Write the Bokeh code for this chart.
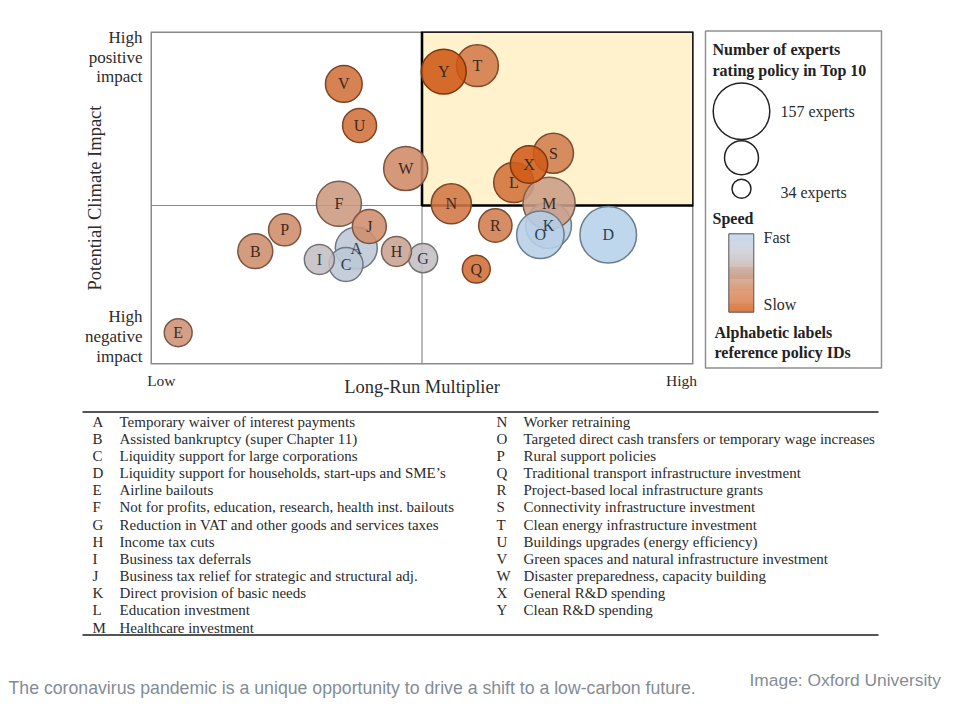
import numpy as np
from bokeh.plotting import figure
from bokeh.models import Range1d, ColumnDataSource, LinearColorMapper, FixedTicker
from bokeh.transform import transform
from bokeh.layouts import column, row
from bokeh.core.properties import value
from bokeh.embed import file_html
from bokeh.resources import INLINE

# ---------------- data ----------------
ids = list("ABCDEFGHIJKLMNOPQRSTUVWXY")
multiplier = [3.79, 1.93, 3.60, 8.43, 0.51, 3.47, 5.02, 4.53, 3.11, 4.03, 7.33, 6.69, 7.34,
              5.54, 7.18, 2.47, 6.00, 6.35, 7.42, 6.02, 3.85, 3.56, 4.70, 6.97, 5.40]
climate = [-1.28, -1.37, -1.77, -0.88, -3.82, 0.05, -1.58, -1.38, -1.62, -0.63, -0.60, 0.69, 0.07,
           0.05, -0.88, -0.73, -1.91, -0.60, 1.57, 4.20, 2.40, 3.65, 1.11, 1.23, 4.02]
experts = [109, 86, 83, 157, 63, 119, 67, 70, 70, 83, 122, 103, 142,
           103, 127, 77, 63, 81, 103, 109, 83, 92, 116, 94, 119]
speed = [0.15, 0.63, 0.15, 0.0, 0.6, 0.57, 0.3, 0.5, 0.3, 0.63, 0.05, 0.8, 0.55,
         0.76, 0.03, 0.64, 0.82, 0.72, 0.72, 0.74, 0.8, 0.8, 0.65, 0.95, 0.97]
policies = [
    "Temporary waiver of interest payments",
    "Assisted bankruptcy (super Chapter 11)",
    "Liquidity support for large corporations",
    "Liquidity support for households, start-ups and SME\u2019s",
    "Airline bailouts",
    "Not for profits, education, research, health inst. bailouts",
    "Reduction in VAT and other goods and services taxes",
    "Income tax cuts",
    "Business tax deferrals",
    "Business tax relief for strategic and structural adj.",
    "Direct provision of basic needs",
    "Education investment",
    "Healthcare investment",
    "Worker retraining",
    "Targeted direct cash transfers or temporary wage increases",
    "Rural support policies",
    "Traditional transport infrastructure investment",
    "Project-based local infrastructure grants",
    "Connectivity infrastructure investment",
    "Clean energy infrastructure investment",
    "Buildings upgrades (energy efficiency)",
    "Green spaces and natural infrastructure investment",
    "Disaster preparedness, capacity building",
    "General R&D spending",
    "Clean R&D spending",
]
legend_experts = [157, 83, 34]
legend_labels = ["157 experts", "", "34 experts"]
x_tick_labels = ["Low", "High"]
y_tick_labels = ["High", "positive", "impact", "High", "negative", "impact"]

SERIF = "Liberation Serif"
X_MIN, X_MAX = 0.0, 10.0
Y_MIN, Y_MAX = -4.775, 5.225

# ---------------- page geometry (px) ----------------
CH_L, CH_R, CH_T, CH_B = 150, 693, 31, 364      # chart frame
TOP_H = 408                                     # height of the chart band
LEG_R = 890

# ---------------- scales ----------------
def diam(n):
    return 2 * (9.5 + (np.asarray(n, dtype=float) - 34) * 18.8 / 123)

stops = [(0.0, (182, 209, 235)), (0.3, (196, 190, 194)), (0.55, (203, 156, 134)),
         (0.75, (210, 120, 70)), (1.0, (207, 84, 14))]

def col_at(t, k=1.0):
    for (t0, c0), (t1, c1) in zip(stops[:-1], stops[1:]):
        if t <= t1:
            f = (t - t0) / (t1 - t0) if t1 > t0 else 0
            c = [c0[i] + f * (c1[i] - c0[i]) for i in range(3)]
            break
    return "#%02x%02x%02x" % tuple(int(round(v * k)) for v in c)

palette = [col_at(t) for t in np.linspace(0, 1, 256)]
dark_palette = [col_at(t, 0.6) for t in np.linspace(0, 1, 256)]
fill_mapper = LinearColorMapper(palette=palette, low=0, high=1)
line_mapper = LinearColorMapper(palette=dark_palette, low=0, high=1)

src = ColumnDataSource(dict(
    x=multiplier, y=climate, id=ids, speed=speed, size=diam(experts),
    tcolor=["#2c3e52" if s < 0.35 else "#3b2a22" for s in speed],
))

# ---------------- main chart ----------------
p = figure(width=CH_R + 7, height=TOP_H, x_range=Range1d(X_MIN, X_MAX), y_range=Range1d(Y_MIN, Y_MAX),
           output_backend="svg", toolbar_location=None,
           min_border_left=CH_L, min_border_right=7, min_border_top=CH_T,
           min_border_bottom=TOP_H - CH_B)
p.grid.visible = False
p.outline_line_color = None
p.background_fill_color = "white"

XC = (X_MIN + X_MAX) / 2
p.segment(x0=[X_MIN, XC], x1=[X_MAX, XC], y0=[0, Y_MIN], y1=[0, Y_MAX],
          line_color="#8a8a8a", line_width=1.2)
p.quad(left=[XC], right=[X_MAX], bottom=[0], top=[Y_MAX],
       fill_color="#FFF2CC", line_color=None)
p.quad(left=[X_MIN], right=[X_MAX], bottom=[Y_MIN], top=[Y_MAX], fill_color=None,
       line_color="#8a8a8a", line_width=3)
p.quad(left=[XC], right=[X_MAX], bottom=[0], top=[Y_MAX], fill_color=None,
       line_color="black", line_width=2.6)

p.scatter(x="x", y="y", size="size", source=src,
          fill_color=transform("speed", fill_mapper), fill_alpha=0.88,
          line_color=transform("speed", line_mapper), line_width=1.5)
p.text(x="x", y="y", text="id", source=src, text_align="center", text_baseline="middle",
       text_font=value(SERIF), text_font_size="16px", text_color="tcolor")

xt = [0.2, 9.78]
yt = [5.03, 4.44, 3.87, -3.33, -3.93, -4.53]
p.xaxis.ticker = FixedTicker(ticks=xt)
p.xaxis.major_label_overrides = {t: l for t, l in zip(xt, x_tick_labels)}
p.yaxis.ticker = FixedTicker(ticks=yt)
p.yaxis.major_label_overrides = {t: l for t, l in zip(yt, y_tick_labels)}
p.xaxis.axis_label = "Long-Run Multiplier"
p.yaxis.axis_label = "Potential Climate Impact"
p.axis.axis_line_color = None
p.axis.major_tick_line_color = None
p.axis.minor_tick_line_color = None
p.axis.major_tick_out = 0
p.axis.major_tick_in = 0
p.axis.minor_tick_out = 0
p.axis.major_label_text_font = SERIF
p.axis.axis_label_text_font = SERIF
p.axis.axis_label_text_font_style = "normal"
p.axis.major_label_text_color = "#2b2b2b"
p.axis.axis_label_text_color = "#2b2b2b"
p.xaxis.major_label_text_font_size = "15.5px"
p.yaxis.major_label_text_font_size = "17px"
p.axis.axis_label_text_font_size = "18.5px"
p.xaxis.major_label_standoff = 7
p.xaxis.axis_label_standoff = -15
p.yaxis.major_label_standoff = 8
p.yaxis.axis_label_standoff = -23

# ---------------- legend panel ----------------
leg = figure(width=LEG_R - (CH_R + 7), height=TOP_H, x_range=Range1d(CH_R + 7, LEG_R),
             y_range=Range1d(TOP_H, 0), output_backend="svg", toolbar_location=None,
             x_axis_location=None, y_axis_location=None, min_border=0)
leg.grid.visible = False
leg.outline_line_color = None
leg.quad(left=[705], right=[881], top=[30.5], bottom=[367.5], fill_color=None,
         line_color="#8f8f8f", line_width=1.5)
leg.text(x=[712, 712], y=[49, 70], text=["Number of experts", "rating policy in Top 10"],
         text_font=value(SERIF), text_font_style="bold", text_font_size="16px",
         text_baseline="middle", text_color="#222222")
leg.scatter(x=[741, 741, 741], y=[110.7, 157.3, 188.3], size=diam(legend_experts),
            fill_color=None, line_color="#222222", line_width=1.5)
leg.text(x=[780, 780, 780], y=[110.7, 157.3, 191.5], text=legend_labels,
         text_font=value(SERIF), text_font_size="16px", text_baseline="middle",
         text_color="#2b2b2b")
leg.text(x=[712], y=[218], text=["Speed"], text_font=value(SERIF), text_font_style="bold",
         text_font_size="16px", text_baseline="middle", text_color="#222222")
nb = 80
edges = np.linspace(233.3, 311.7, nb + 1)
leg.quad(left=728.3, right=753.3, top=edges[:-1], bottom=edges[1:],
         fill_color=[palette[int(round(i * 255 / (nb - 1)))] for i in range(nb)],
         fill_alpha=0.92, line_color=None)
leg.quad(left=[728.3], right=[753.3], top=[233.3], bottom=[311.7], fill_color=None,
         line_color="#555555", line_width=1)
leg.text(x=[763, 763], y=[237.3, 304.3], text=["Fast", "Slow"], text_font=value(SERIF),
         text_font_size="16px", text_baseline="middle", text_color="#2b2b2b")
leg.text(x=[714, 714], y=[331.5, 351.5], text=["Alphabetic labels", "reference policy IDs"],
         text_font=value(SERIF), text_font_style="bold", text_font_size="16px",
         text_baseline="middle", text_color="#222222")

# ---------------- policy table ----------------
tab = figure(width=980, height=650 - TOP_H, x_range=Range1d(0, 980), y_range=Range1d(650, TOP_H),
             output_backend="svg", toolbar_location=None, x_axis_location=None, y_axis_location=None,
             min_border=0)
tab.grid.visible = False
tab.outline_line_color = None
tab.segment(x0=[82, 82], x1=[878, 878], y0=[411.5, 634.5], y1=[411.5, 634.5],
            line_color="#555555", line_width=2)
n_left = 13
row_y0, row_step = 421.0, 17.18
ly = [row_y0 + (i % n_left) * row_step for i in range(len(ids))]
lx_letter = [92 if i < n_left else 496 for i in range(len(ids))]
lx_desc = [119 if i < n_left else 523 for i in range(len(ids))]
tab.text(x=lx_letter, y=ly, text=ids, text_font=value(SERIF), text_font_size="15px",
         text_baseline="middle", text_color="#2b2b2b")
tab.text(x=lx_desc, y=ly, text=policies, text_font=value(SERIF), text_font_size="15px",
         text_baseline="middle", text_color="#2b2b2b")

# ---------------- caption ----------------
cap = figure(width=980, height=65, x_range=Range1d(0, 980), y_range=Range1d(715, 650),
             output_backend="svg", toolbar_location=None, x_axis_location=None, y_axis_location=None,
             min_border=0)
cap.grid.visible = False
cap.outline_line_color = None
cap.text(x=[8], y=[687], text=["The coronavirus pandemic is a unique opportunity to drive a shift to a low-carbon future."],
         text_font=value("Liberation Sans"), text_font_size="17.7px", text_baseline="middle",
         text_color="#838c96")
cap.text(x=[749], y=[679], text=["Image: Oxford University"],
         text_font=value("Liberation Sans"), text_font_size="17.4px", text_baseline="middle",
         text_color="#838c96")

layout = column(row(p, column(leg, spacing=0), spacing=0), row(tab, spacing=0),
                row(cap, spacing=0), spacing=0)
open("out.html", "w").write(file_html(layout, INLINE))
